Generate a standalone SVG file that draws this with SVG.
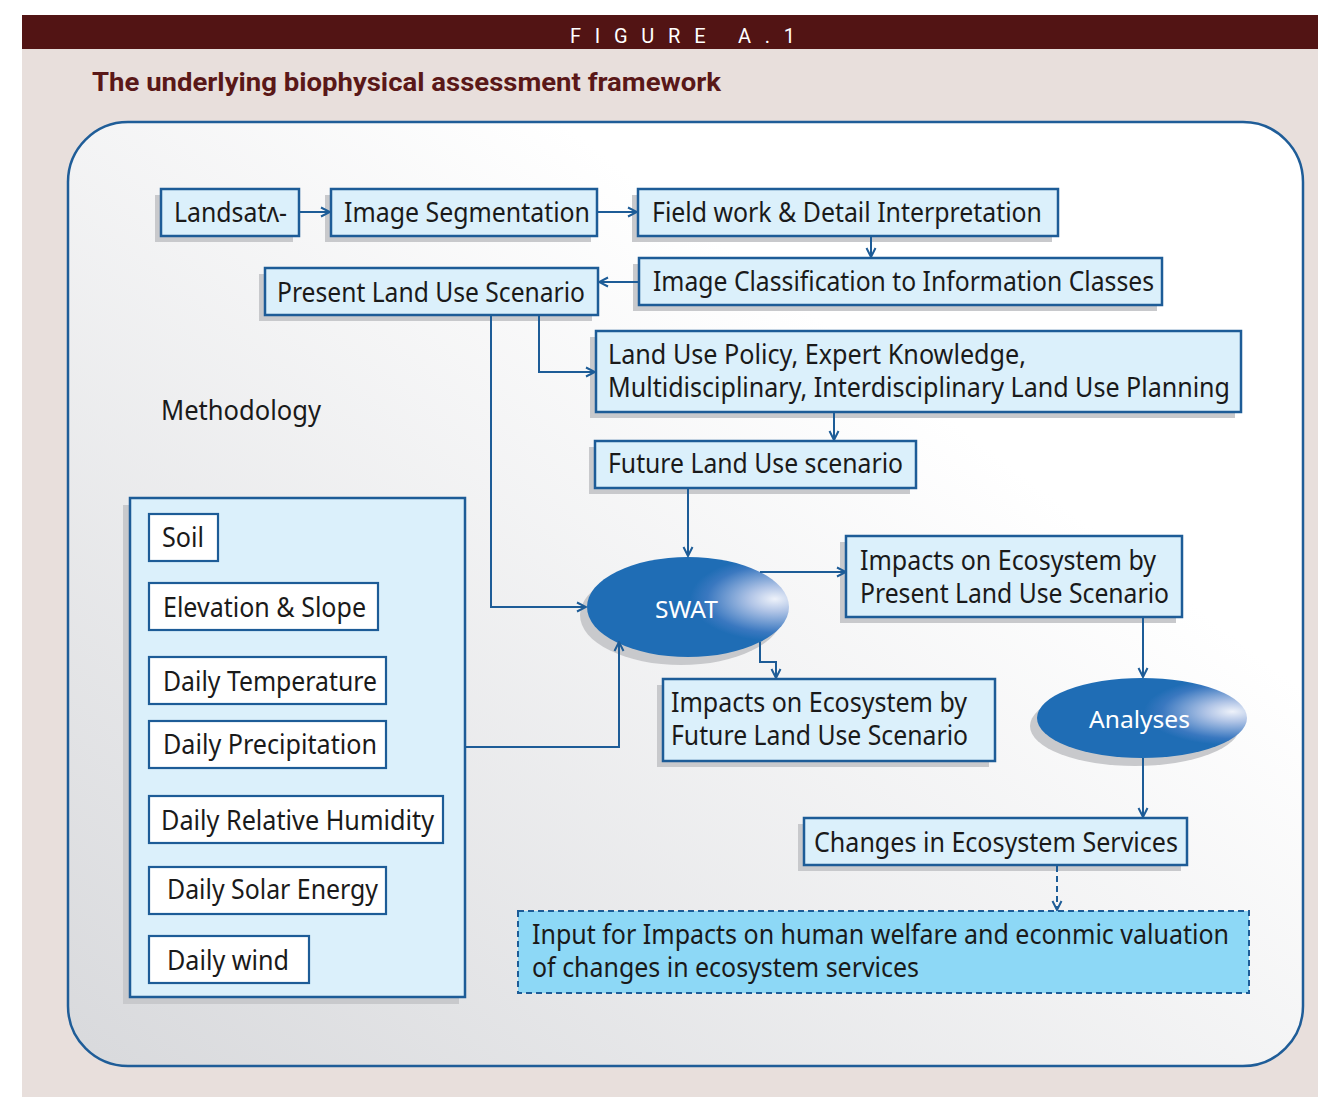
<svg xmlns="http://www.w3.org/2000/svg" width="1318" height="1097" viewBox="0 0 1318 1097">
<style>
.t{font-family:"Noto Sans","Open Sans","Liberation Sans",sans-serif;font-size:27px;fill:#1a1a1a;}
.box{fill:#dbf0fb;stroke:#1d5c97;stroke-width:2.5;}
.wbox{fill:#ffffff;stroke:#1d5c97;stroke-width:2.2;}
.sh{fill:#c8c9cc;}
.ln{fill:none;stroke:#1d5c97;stroke-width:2;marker-end:url(#ah);}
.et{font-family:"Noto Sans","Open Sans","Liberation Sans",sans-serif;font-size:24px;fill:#ffffff;}
</style>
<defs>
<linearGradient id="panelG" x1="0" y1="1" x2="1" y2="0">
<stop offset="0" stop-color="#d8d9dc"/>
<stop offset="0.7" stop-color="#ffffff"/>
<stop offset="1" stop-color="#ffffff"/>
</linearGradient>
<radialGradient id="ellG" cx="0.93" cy="0.42" r="0.42">
<stop offset="0" stop-color="#eef2fa"/>
<stop offset="0.3" stop-color="#b0c4e6"/>
<stop offset="0.8" stop-color="#3a78c0"/>
<stop offset="1" stop-color="#1f6db5"/>
</radialGradient>
<marker id="ah" viewBox="0 0 12 12" refX="11" refY="6" markerWidth="12" markerHeight="12" markerUnits="userSpaceOnUse" orient="auto">
<path d="M2,1.5 L11,6 L2,10.5" fill="none" stroke="#1d5c97" stroke-width="2"/>
</marker>
</defs>

<rect x="0" y="0" width="1318" height="1097" fill="#ffffff"/>
<rect x="22" y="15" width="1296" height="1082" fill="#e8dfdc"/>
<rect x="22" y="15" width="1296" height="34" fill="#521414"/>
<text x="570" y="43" font-family="Roboto,'Liberation Sans',sans-serif" font-size="20" fill="#ffffff" textLength="225" lengthAdjust="spacing">FIGURE A.1</text>
<text x="92" y="91" font-family="Roboto,'Liberation Sans',sans-serif" font-size="25" font-weight="bold" fill="#5a1818" textLength="629" lengthAdjust="spacingAndGlyphs">The underlying biophysical assessment framework</text>

<rect id="panel" x="68" y="122" width="1235" height="944" rx="60" ry="60" fill="url(#panelG)" stroke="#1f5d98" stroke-width="2.5"/>

<text id="methodology" class="t" x="161" y="420" textLength="160" lengthAdjust="spacingAndGlyphs">Methodology</text>

<g id="landsat">
<rect class="sh" x="155" y="195" width="138" height="47"/>
<rect class="box" x="161" y="189" width="138" height="47"/>
<text class="t" x="174" y="222" textLength="113" lengthAdjust="spacingAndGlyphs">Landsatʌ-</text>
</g>
<g id="segmentation">
<rect class="sh" x="325" y="195" width="266" height="47"/>
<rect class="box" x="331" y="189" width="266" height="47"/>
<text class="t" x="344" y="222" textLength="246" lengthAdjust="spacingAndGlyphs">Image Segmentation</text>
</g>
<g id="fieldwork">
<rect class="sh" x="632" y="195" width="420" height="47"/>
<rect class="box" x="638" y="189" width="420" height="47"/>
<text class="t" x="652" y="222" textLength="390" lengthAdjust="spacingAndGlyphs">Field work &amp; Detail Interpretation</text>
</g>
<g id="classification">
<rect class="sh" x="633" y="264" width="524" height="47"/>
<rect class="box" x="639" y="258" width="523" height="47"/>
<text class="t" x="653" y="291" textLength="501" lengthAdjust="spacingAndGlyphs">Image Classification to Information Classes</text>
</g>
<g id="present">
<rect class="sh" x="259" y="274" width="333" height="47"/>
<rect class="box" x="265" y="268" width="333" height="47"/>
<text class="t" x="277" y="302" textLength="308" lengthAdjust="spacingAndGlyphs">Present Land Use Scenario</text>
</g>
<g id="policy">
<rect class="sh" x="590" y="337" width="645" height="81"/>
<rect class="box" x="596" y="331" width="645" height="81"/>
<text class="t" x="608" y="364" textLength="418" lengthAdjust="spacingAndGlyphs">Land Use Policy, Expert Knowledge,</text>
<text class="t" x="608" y="397" textLength="622" lengthAdjust="spacingAndGlyphs">Multidisciplinary, Interdisciplinary Land Use Planning</text>
</g>
<g id="future">
<rect class="sh" x="589" y="447" width="321" height="47"/>
<rect class="box" x="595" y="441" width="321" height="47"/>
<text class="t" x="608" y="473" textLength="295" lengthAdjust="spacingAndGlyphs">Future Land Use scenario</text>
</g>
<g id="swat">
<ellipse cx="681" cy="615" rx="101" ry="50" fill="#c8c9cc"/>
<ellipse cx="688" cy="607" rx="101" ry="50" fill="url(#ellG)"/>
<text class="et" x="655" y="618" textLength="63" lengthAdjust="spacingAndGlyphs">SWAT</text>
</g>
<g id="impactsPresent">
<rect class="sh" x="840" y="542" width="336" height="81"/>
<rect class="box" x="846" y="536" width="336" height="81"/>
<text class="t" x="860" y="570" textLength="296" lengthAdjust="spacingAndGlyphs">Impacts on Ecosystem by</text>
<text class="t" x="860" y="603" textLength="309" lengthAdjust="spacingAndGlyphs">Present Land Use Scenario</text>
</g>
<g id="impactsFuture">
<rect class="sh" x="657" y="685" width="332" height="82"/>
<rect class="box" x="663" y="679" width="332" height="82"/>
<text class="t" x="671" y="712" textLength="296" lengthAdjust="spacingAndGlyphs">Impacts on Ecosystem by</text>
<text class="t" x="671" y="745" textLength="297" lengthAdjust="spacingAndGlyphs">Future Land Use Scenario</text>
</g>
<g id="analyses">
<ellipse cx="1135" cy="726" rx="105" ry="40" fill="#c8c9cc"/>
<ellipse cx="1142" cy="718" rx="105" ry="40" fill="url(#ellG)"/>
<text class="et" x="1089" y="728" textLength="101" lengthAdjust="spacingAndGlyphs">Analyses</text>
</g>
<g id="changes">
<rect class="sh" x="798" y="824" width="383" height="47"/>
<rect class="box" x="804" y="818" width="383" height="47"/>
<text class="t" x="814" y="852" textLength="364" lengthAdjust="spacingAndGlyphs">Changes in Ecosystem Services</text>
</g>
<g id="input">
<rect x="518" y="911" width="731" height="82" fill="#8dd8f6" stroke="#1d5c97" stroke-width="2" stroke-dasharray="6 4"/>
<text class="t" x="532" y="944" textLength="697" lengthAdjust="spacingAndGlyphs">Input for Impacts on human welfare and econmic valuation</text>
<text class="t" x="532" y="977" textLength="387" lengthAdjust="spacingAndGlyphs">of changes in ecosystem services</text>
</g>

<g id="inputs">
<rect class="sh" x="123" y="505" width="336" height="499"/>
<rect class="box" x="130" y="498" width="335" height="499"/>
<g id="soil">
<rect class="wbox" x="149" y="514" width="69" height="47"/>
<text class="t" x="162" y="547" textLength="42" lengthAdjust="spacingAndGlyphs">Soil</text>
</g>
<g id="elevation">
<rect class="wbox" x="149" y="583" width="229" height="47"/>
<text class="t" x="163" y="617" textLength="203" lengthAdjust="spacingAndGlyphs">Elevation &amp; Slope</text>
</g>
<g id="temperature">
<rect class="wbox" x="149" y="657" width="237" height="47"/>
<text class="t" x="163" y="691" textLength="214" lengthAdjust="spacingAndGlyphs">Daily Temperature</text>
</g>
<g id="precipitation">
<rect class="wbox" x="149" y="721" width="237" height="47"/>
<text class="t" x="163" y="754" textLength="214" lengthAdjust="spacingAndGlyphs">Daily Precipitation</text>
</g>
<g id="humidity">
<rect class="wbox" x="149" y="796" width="294" height="47"/>
<text class="t" x="161" y="830" textLength="273" lengthAdjust="spacingAndGlyphs">Daily Relative Humidity</text>
</g>
<g id="solar">
<rect class="wbox" x="149" y="867" width="237" height="47"/>
<text class="t" x="167" y="899" textLength="211" lengthAdjust="spacingAndGlyphs">Daily Solar Energy</text>
</g>
<g id="wind">
<rect class="wbox" x="149" y="936" width="160" height="47"/>
<text class="t" x="167" y="970" textLength="122" lengthAdjust="spacingAndGlyphs">Daily wind</text>
</g>
</g>

<g id="connectors">
<path class="ln" d="M299,212 H330"/>
<path class="ln" d="M597,212 H637"/>
<path class="ln" d="M871,236 V257"/>
<path class="ln" d="M638,282 H599"/>
<path class="ln" d="M539,315 V372 H595"/>
<path class="ln" d="M491,315 V607 H586"/>
<path class="ln" d="M834,412 V440"/>
<path class="ln" d="M688,488 V556"/>
<path class="ln" d="M760,572 H846"/>
<path class="ln" d="M760,642 V662 H776 V678"/>
<path class="ln" d="M465,747 H619 V642"/>
<path class="ln" d="M1143,617 V677"/>
<path class="ln" d="M1143,758 V817"/>
<path class="ln" d="M1057,866 V910" stroke-dasharray="6 4"/>
</g>
</svg>
